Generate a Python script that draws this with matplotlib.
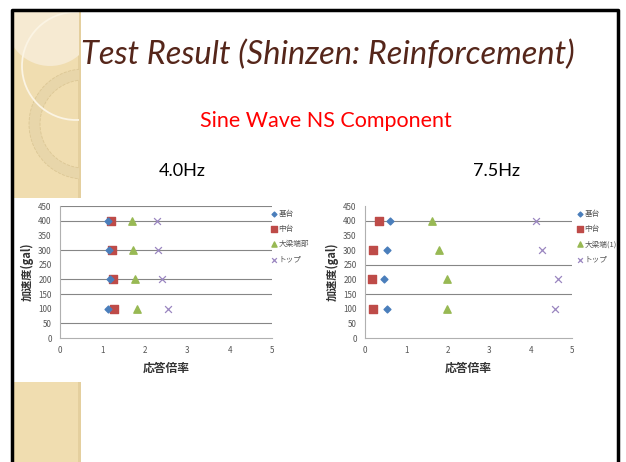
"""Slide: test result, response ratio vs acceleration."""
import matplotlib
matplotlib.use("Agg")
import matplotlib.pyplot as plt
from matplotlib.patches import Rectangle, Circle, Wedge

plt.rcParams["font.family"] = ["Noto Sans CJK JP", "DejaVu Sans"]

# data
accel = [400, 300, 200, 100]
series_names_4hz = ["基台", "中台", "大梁端部", "トップ"]
series_names_75hz = ["基台", "中台", "大梁端(1)", "トップ"]

# 4.0Hz response ratio
base_4 = [1.13, 1.16, 1.18, 1.13]
mid_4 = [1.20, 1.22, 1.26, 1.28]
beam_4 = [1.69, 1.72, 1.76, 1.81]
top_4 = [2.28, 2.31, 2.40, 2.54]

# 7.5Hz response ratio
base_75 = [0.61, 0.52, 0.47, 0.53]
mid_75 = [0.34, 0.19, 0.18, 0.20]
beam_75 = [1.63, 1.79, 1.98, 1.97]
top_75 = [4.14, 4.28, 4.66, 4.59]

grid_4 = [50, 150, 200, 300, 400, 450]
grid_75 = [150, 250, 400]

W, H = 626, 462
fig = plt.figure(figsize=(W / 100, H / 100), dpi=100)
fig.patch.set_facecolor("white")


def px(x, y, w, h):
    return [x / W, 1 - (y + h) / H, w / W, h / H]


# slide background: border + beige stripe with faint circles
bg = fig.add_axes([0, 0, 1, 1])
bg.set_xlim(0, W)
bg.set_ylim(H, 0)
bg.axis("off")
stripe = Rectangle((12, 10), 67, 460, fc="#f0ddb0", ec="none")
bg.add_patch(stripe)
bg.add_patch(Rectangle((78, 10), 3, 460, fc="#e4cf9e", ec="none"))
c1 = Circle((76, 66), 54, fc="none", ec="#fbf4e4", lw=1.3)
c1f = Circle((50, 22), 44, fc="#f6ead2", ec="none")
ring = Wedge((84, 124), 55, 0, 360, width=11, fc="#e8d6aa", ec="#dcc795",
             lw=0.6, ls="--")
for p in (c1f, ring, c1):
    bg.add_patch(p)
    p.set_clip_path(stripe)
bg.add_patch(Rectangle((12, 198), 606, 184, fc="white", ec="none"))
bg.plot([12, 12, 618, 618], [470, 10, 10, 470], color="black", lw=2.5)

fig.text(328 / W, 1 - 55 / H, "Test Result (Shinzen: Reinforcement)",
         family="Lato", style="italic", fontsize=23.5, color="#55261a",
         ha="center", va="center")
fig.text(326 / W, 1 - 121 / H, "Sine Wave NS Component", family="Lato",
         fontsize=15.5, color="#ff0000", ha="center", va="center")
fig.text(182 / W, 1 - 171 / H, "4.0Hz", family="Lato", fontsize=13,
         ha="center", va="center")
fig.text(497 / W, 1 - 171 / H, "7.5Hz", family="Lato", fontsize=13,
         ha="center", va="center")


def draw(rect, base, mid, beam, top, names, grid, legend_xy):
    ax = fig.add_axes(rect)
    for g in grid:
        ax.axhline(g, color="#868686", lw=0.8, zorder=0)
    ax.scatter(base, accel, marker="D", s=12, color="#4a7ebb", label=names[0], zorder=3)
    ax.scatter(mid, accel, marker="s", s=30, color="#be4b48", label=names[1], zorder=2)
    ax.scatter(beam, accel, marker="^", s=28, color="#98b954", label=names[2], zorder=3)
    ax.scatter(top, accel, marker="x", s=24, color="#9a86c0", lw=0.9, label=names[3], zorder=3)
    ax.set_xlim(0, 5)
    ax.set_ylim(0, 450)
    ax.set_yticks(range(0, 451, 50))
    ax.set_xticks(range(0, 6))
    for s in ["top", "right"]:
        ax.spines[s].set_visible(False)
    for s in ["left", "bottom"]:
        ax.spines[s].set_color("#b0b0b0")
        ax.spines[s].set_linewidth(0.8)
    ax.tick_params(length=0, labelsize=5.8, labelcolor="#555555", pad=6)
    ax.set_xlabel("応答倍率", fontsize=8.5, labelpad=5, fontweight="bold",
                  color="#333333")
    ax.set_ylabel("加速度(gal)", fontsize=8, labelpad=3, fontweight="bold",
                  color="#333333")
    ax.set_facecolor("none")
    fig.legend(*ax.get_legend_handles_labels(), loc="upper left",
               bbox_to_anchor=(legend_xy[0] / W, 1 - legend_xy[1] / H),
               frameon=False, fontsize=5.5, labelcolor="#555555",
               handletextpad=0.1, handlelength=1.0, labelspacing=0.95,
               borderpad=0, markerscale=0.7)


draw(px(60, 206, 212, 132), base_4, mid_4, beam_4, top_4,
     series_names_4hz, grid_4, (266, 206))
draw(px(365, 206, 207, 132), base_75, mid_75, beam_75, top_75,
     series_names_75hz, grid_75, (572, 206))

fig.savefig("out.png", dpi=100)
